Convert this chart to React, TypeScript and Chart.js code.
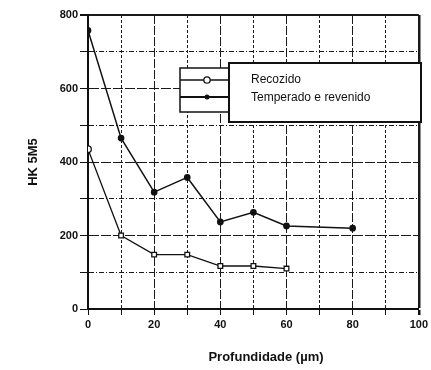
import React, { useEffect, useRef } from "react";
import { Chart, registerables } from "chart.js";
Chart.register(...registerables);

const depthRecozido = [0, 10, 20, 30, 40, 50, 60];
const recozido = [435, 200, 148, 148, 117, 117, 110];
const depthTemperado = [0, 10, 20, 30, 40, 50, 60, 80];
const temperado = [758, 465, 318, 358, 237, 263, 226, 220];
const seriesNames = ["Recozido", "Temperado e revenido"];
const xTitle = "Profundidade (\u00b5m)";
const yTitle = "HK 5M5";

const FONT = "'Liberation Sans', Arial, sans-serif";

const overlay = {
  id: "overlay",
  afterDraw(chart: any) {
    const c = chart.ctx;
    c.save();
    // axis titles
    c.fillStyle = "#111";
    c.font = `bold 13px ${FONT}`;
    c.textAlign = "center";
    c.textBaseline = "middle";
    c.fillText(xTitle, 266, 357);
    c.save();
    c.translate(33, 162);
    c.rotate(-Math.PI / 2);
    c.fillText(yTitle, 0, 0);
    c.restore();
    // legend sample box
    c.fillStyle = "#fff";
    c.fillRect(180, 68, 49, 44);
    c.strokeStyle = "#111";
    c.lineWidth = 1.5;
    c.strokeRect(180, 68, 49, 44);
    // main legend box
    c.fillStyle = "#fff";
    c.fillRect(229, 63, 192, 59);
    c.lineWidth = 2;
    c.strokeRect(229, 63, 192, 59);
    // samples
    c.lineWidth = 1.3;
    c.beginPath();
    c.moveTo(180, 80);
    c.lineTo(229, 80);
    c.stroke();
    c.beginPath();
    c.arc(207, 80, 3.2, 0, Math.PI * 2);
    c.fillStyle = "#fff";
    c.fill();
    c.stroke();
    c.lineWidth = 1.8;
    c.beginPath();
    c.moveTo(180, 97);
    c.lineTo(229, 97);
    c.stroke();
    c.beginPath();
    c.arc(207, 97, 2.5, 0, Math.PI * 2);
    c.fillStyle = "#111";
    c.fill();
    // texts
    c.font = `12px ${FONT}`;
    c.textAlign = "left";
    c.fillStyle = "#111";
    c.fillText(seriesNames[0], 251, 80);
    c.fillText(seriesNames[1], 251, 98);
    c.restore();
  },
};

export default function App() {
  const ref = useRef<HTMLCanvasElement>(null);
  useEffect(() => {
    document.body.style.margin = "0";
    const chart = new Chart(ref.current!, {
      type: "line",
      data: {
        datasets: [
          {
            label: seriesNames[0],
            data: depthRecozido.map((x, i) => ({ x, y: recozido[i] })),
            borderColor: "#111",
            borderWidth: 1.3,
            pointStyle: recozido.map((_, i) => (i === 0 ? "circle" : "rect")),
            pointRadius: 3.3,
            pointBackgroundColor: "#fff",
            pointBorderColor: "#111",
            pointBorderWidth: 1.3,
            tension: 0,
          },
          {
            label: seriesNames[1],
            data: depthTemperado.map((x, i) => ({ x, y: temperado[i] })),
            borderColor: "#111",
            borderWidth: 1.5,
            pointStyle: "circle",
            pointRadius: 2.6,
            pointBackgroundColor: "#111",
            pointBorderColor: "#111",
            tension: 0,
          },
        ],
      },
      options: {
        animation: false,
        responsive: false,
        maintainAspectRatio: false,
        layout: { padding: { top: 15, right: 7, left: 0, bottom: 0 } },
        plugins: { legend: { display: false }, tooltip: { enabled: false } },
        scales: {
          x: {
            type: "linear",
            min: 0,
            max: 100,
            afterFit: (s: any) => {
              s.height = 61;
            },
            ticks: {
              stepSize: 10,
              autoSkip: false,
              maxRotation: 0,
              padding: 3,
              color: "#111",
              font: { family: FONT, size: 11, weight: "bold" },
              callback: (v: any) => (v % 20 === 0 ? String(v) : ""),
            },
            grid: {
              color: "#1a1a1a",
              lineWidth: (ctx: any) => (ctx.tick && ctx.tick.value === 100 ? 2.5 : 1),
              tickLength: 6,
              tickColor: "#111",
            },
            border: {
              color: "#111",
              width: 2,
              dash: (ctx: any) =>
                ctx.tick && (ctx.tick.value === 100 || ctx.tick.value === 0)
                  ? []
                  : ctx.tick && ctx.tick.value % 20 === 0
                  ? [9, 2]
                  : [3, 2],
            },
          },
          y: {
            type: "linear",
            min: 0,
            max: 800,
            afterFit: (s: any) => {
              s.width = 88;
            },
            ticks: {
              stepSize: 100,
              autoSkip: false,
              padding: 2,
              color: "#111",
              font: { family: FONT, size: 11, weight: "bold" },
              callback: (v: any) => (v % 200 === 0 ? String(v) : ""),
            },
            grid: {
              color: "#1a1a1a",
              lineWidth: (ctx: any) => (ctx.tick && ctx.tick.value === 800 ? 2 : 1),
              tickLength: 8,
              tickColor: "#111",
            },
            border: {
              color: "#111",
              width: 2,
              dash: (ctx: any) =>
                ctx.tick && (ctx.tick.value === 800 || ctx.tick.value === 0)
                  ? []
                  : ctx.tick && ctx.tick.value % 200 === 0
                  ? [10, 2]
                  : [5, 2, 1, 2],
            },
          },
        },
      },
      plugins: [overlay],
    });
    return () => chart.destroy();
  }, []);
  return (
    <div style={{ position: "absolute", left: 0, top: 0, width: 431, height: 370, background: "#fff" }}>
      <canvas ref={ref} width={431} height={370} style={{ width: 431, height: 370 }} />
    </div>
  );
}
